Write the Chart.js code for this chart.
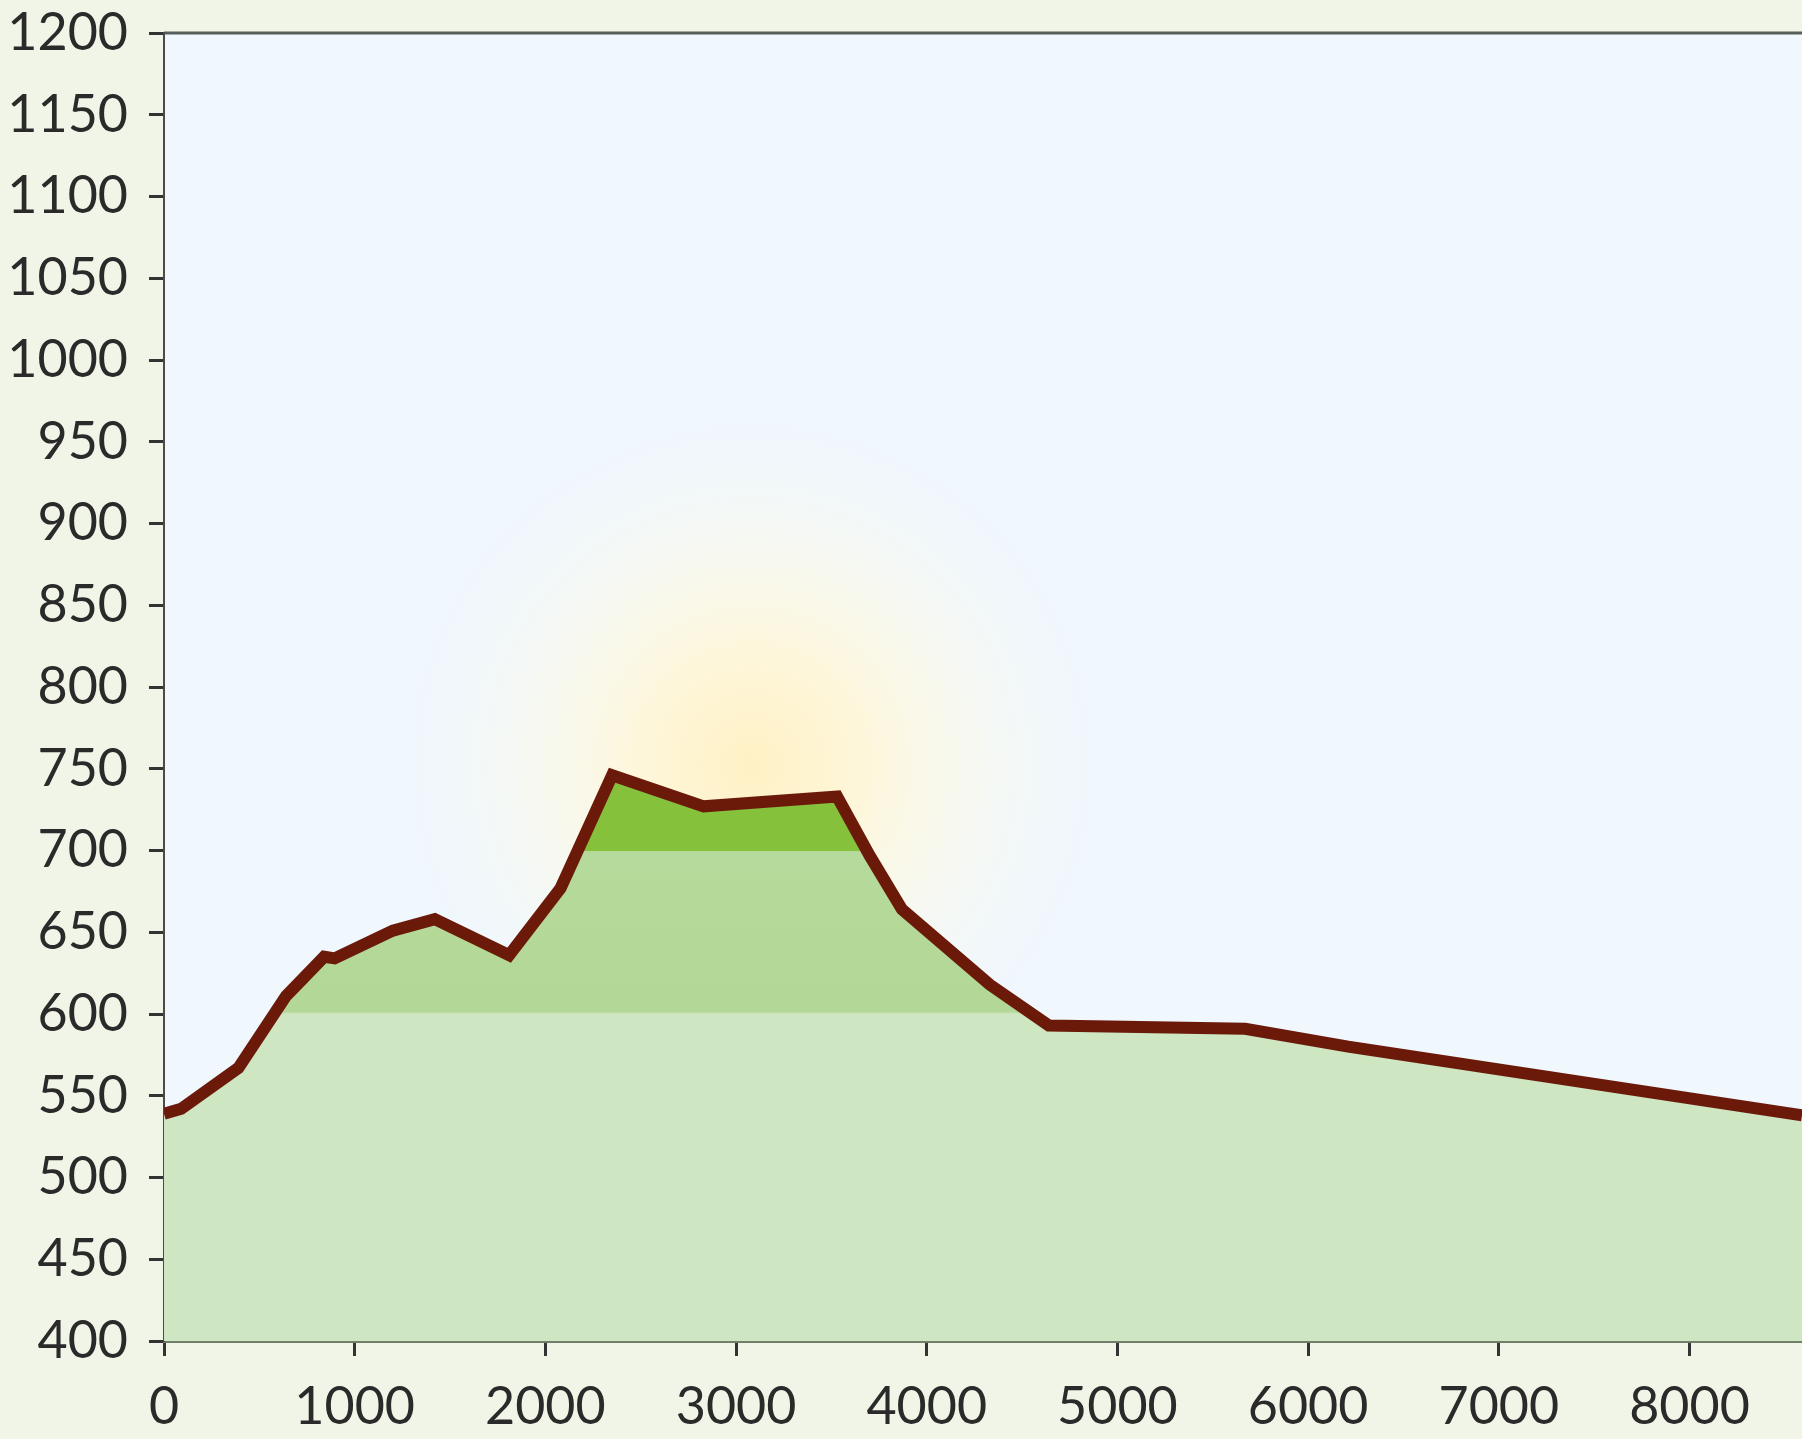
<!DOCTYPE html>
<html>
<head>
<meta charset="utf-8">
<script src="https://cdn.jsdelivr.net/npm/chart.js@4.4.1/dist/chart.umd.min.js"></script>
<style>
  html, body { margin: 0; padding: 0; background: #f1f5e7; }
  #wrap { width: 1802px; height: 1439px; position: relative; }
</style>
</head>
<body>
<div id="wrap"><canvas id="profile"></canvas></div>
<script>
// distance (m) and elevation (m)
const distances  = [0, 90, 390, 640, 840, 895, 1200, 1420, 1810, 2080, 2350, 2830, 3530, 3700, 3870, 4330, 4640, 5670, 6210, 8590];
const elevations = [539, 542, 567, 611, 635, 634, 651, 658, 636, 677, 746, 727, 733, 697, 664, 618, 593, 591, 580, 538];
const xTicks = [0, 1000, 2000, 3000, 4000, 5000, 6000, 7000, 8000];

const xMin = 0, xMax = 8590;
const yMin = 400, yMax = 1200, yStep = 50;
const bandLow = 600, bandHigh = 700;

const points = distances.map((d, i) => ({ x: d, y: elevations[i] }));

// plot background + sun glow + top frame line
const backdrop = {
    id: 'backdrop',
    beforeDraw(chart) {
        const { ctx, chartArea: a, scales } = chart;
        ctx.save();
        ctx.fillStyle = '#f1f5e7';
        ctx.fillRect(0, 0, chart.width, chart.height);
        ctx.fillStyle = '#f0f7fd';
        ctx.fillRect(a.left, a.top, a.right - a.left, a.bottom - a.top);

        const cx = scales.x.getPixelForValue(3080);
        const cy = scales.y.getPixelForValue(752);
        const g = ctx.createRadialGradient(cx, cy, 0, cx, cy, 370);
        g.addColorStop(0, 'rgba(255,241,196,1)');
        g.addColorStop(0.3, 'rgba(255,246,214,0.9)');
        g.addColorStop(0.6, 'rgba(252,250,232,0.55)');
        g.addColorStop(1, 'rgba(240,247,253,0)');
        ctx.fillStyle = g;
        ctx.fillRect(a.left, a.top, a.right - a.left, a.bottom - a.top);

        ctx.strokeStyle = '#55605a';
        ctx.lineWidth = 3;
        ctx.beginPath();
        ctx.moveTo(a.left, a.top);
        ctx.lineTo(chart.width, a.top);
        ctx.stroke();
        ctx.restore();
    }
};

function bandFill(context) {
    const chart = context.chart;
    const a = chart.chartArea;
    if (!a) return '#cfe6c2';
    const y = chart.scales.y;
    const h = a.bottom - a.top;
    const fHigh = (y.getPixelForValue(bandHigh) - a.top) / h;
    const fLow = (y.getPixelForValue(bandLow) - a.top) / h;
    const g = chart.ctx.createLinearGradient(0, a.top, 0, a.bottom);
    g.addColorStop(0, '#86c13c');
    g.addColorStop(fHigh, '#86c13c');
    g.addColorStop(fHigh + 0.0005, '#b6da9b');
    g.addColorStop(fLow - 0.002, '#b3d796');
    g.addColorStop(fLow, '#cfe6c2');
    g.addColorStop(1, '#cfe6c2');
    return g;
}

const tickFont = { family: 'Lato', size: 52 };

new Chart(document.getElementById('profile'), {
    type: 'line',
    data: {
        datasets: [{
            data: points,
            borderColor: '#6b1a0a',
            borderWidth: 12,
            borderJoinStyle: 'miter',
            backgroundColor: bandFill,
            fill: 'start',
            tension: 0,
            pointRadius: 0
        }]
    },
    options: {
        responsive: true,
        maintainAspectRatio: false,
        animation: false,
        layout: { padding: { top: 33, right: 0, left: 0, bottom: 0 } },
        plugins: { legend: { display: false }, tooltip: { enabled: false } },
        scales: {
            x: {
                type: 'linear',
                min: xMin,
                max: xMax,
                afterBuildTicks(scale) { scale.ticks = xTicks.map(v => ({ value: v })); },
                afterFit(scale) { scale.height = 98; },
                grid: { drawOnChartArea: false, drawTicks: true, tickLength: 15, tickColor: '#333', tickWidth: 3 },
                border: { color: '#6f7f68', width: 3 },
                ticks: { color: '#2a2a2a', font: tickFont, padding: 20, maxRotation: 0, autoSkip: false,
                         callback: v => String(v) }
            },
            y: {
                min: yMin,
                max: yMax,
                afterFit(scale) {
                    scale.width = 164;
                    scale.paddingTop = 0;
                    scale.paddingBottom = 0;
                },
                grid: { drawOnChartArea: false, drawTicks: true, tickLength: 15, tickColor: '#333', tickWidth: 3 },
                border: { color: '#4a4a4a', width: 2 },
                ticks: { stepSize: yStep, color: '#2a2a2a', font: { family: 'Lato', size: 52, lineHeight: 0.5 },
                         padding: 21, callback: v => String(v) }
            }
        }
    },
    plugins: [backdrop]
});
</script>
</body>
</html>
